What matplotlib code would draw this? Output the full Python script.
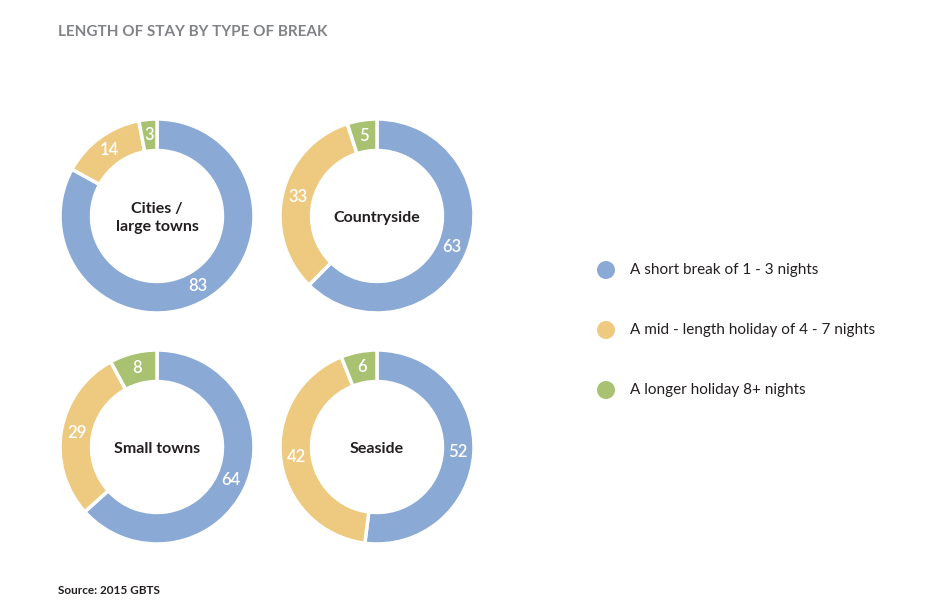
import matplotlib.pyplot as plt
from matplotlib.patches import Circle

# data
places = ["Cities /\nlarge towns", "Countryside", "Small towns", "Seaside"]
short_break = [83, 63, 64, 52]
mid_length = [14, 33, 29, 42]
longer = [3, 5, 8, 6]
legend_labels = ["A short break of 1 - 3 nights",
                 "A mid - length holiday of 4 - 7 nights",
                 "A longer holiday 8+ nights"]
colors = ["#8AA9D5", "#EECA80", "#A8C271"]

W, H = 942, 613
plt.rcParams['font.family'] = ['Lato', 'DejaVu Sans']

fig = plt.figure(figsize=(W / 100, H / 100), dpi=100)
fig.patch.set_facecolor("white")

centers = [(157, 216), (377, 216), (157, 447), (377, 447)]
R = 97

for i in range(len(places)):
    cx, cy = centers[i]
    ax = fig.add_axes([(cx - R) / W, 1 - (cy + R) / H, 2 * R / W, 2 * R / H])
    vals = [short_break[i], mid_length[i], longer[i]]
    ax.pie(vals, colors=colors, startangle=90, counterclock=False, radius=1,
           labels=[str(v) for v in vals], labeldistance=0.835,
           textprops=dict(color="white", fontsize=12, fontweight="semibold", ha="center", va="center"),
           wedgeprops=dict(width=0.325, edgecolor="white", linewidth=2.5))
    ax.text(0, -0.02, places[i], ha="center", va="center", fontsize=11.5,
            fontweight="bold", color="#231F20", linespacing=1.3)
    ax.set_xlim(-1, 1)
    ax.set_ylim(-1, 1)
    ax.set_aspect("equal")
    ax.axis("off")

# legend drawn as circles + text
lax = fig.add_axes([0, 0, 1, 1])
lax.set_xlim(0, W)
lax.set_ylim(H, 0)
lax.axis("off")
for j, lab in enumerate(legend_labels):
    y = 270 + 60 * j
    lax.add_patch(Circle((606, y), 9, color=colors[j], lw=0))
    lax.text(630, y, lab, ha="left", va="center", fontsize=11, color="#231F20")

lax.text(58, 32, "LENGTH OF STAY BY TYPE OF BREAK", ha="left", va="center",
         fontsize=11, fontweight="bold", color="#808285")
lax.text(58, 591, "Source: 2015 GBTS", ha="left", va="center",
         fontsize=8.5, fontweight="bold", color="#231F20")

fig.savefig("out.png", dpi=100)
